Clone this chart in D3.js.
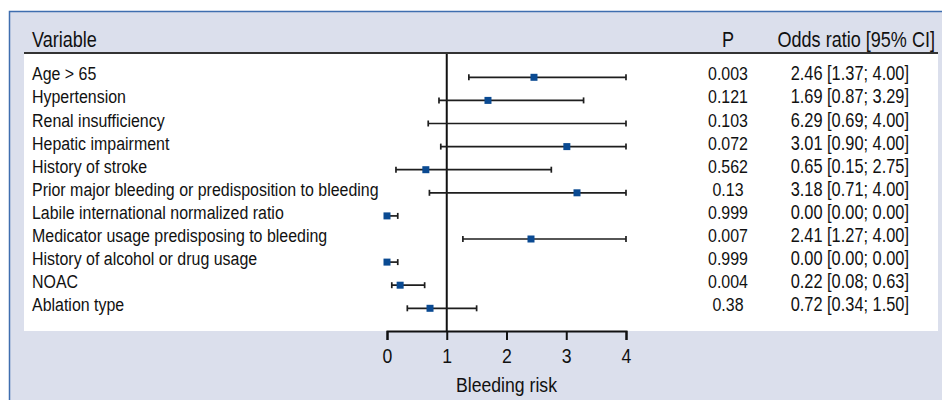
<!DOCTYPE html>
<html>
<head>
<meta charset="utf-8">
<script src="https://cdn.jsdelivr.net/npm/d3@7"></script>
<style>
  html, body { margin: 0; padding: 0; background: #fff; }
  svg text { font-family: "Liberation Sans", Arial, sans-serif; fill: #111; }
</style>
</head>
<body>
<div id="chart"></div>
<script>
const variables = [
  'Age > 65', 'Hypertension', 'Renal insufficiency', 'Hepatic impairment',
  'History of stroke', 'Prior major bleeding or predisposition to bleeding',
  'Labile international normalized ratio', 'Medicator usage predisposing to bleeding',
  'History of alcohol or drug usage', 'NOAC', 'Ablation type'
];
// values as drawn on the plot (clipped at 4)
const oddsRatio = [2.46, 1.69, 6.29, 3.01, 0.65, 3.18, 0.00, 2.41, 0.00, 0.22, 0.72];
const ciLow = [1.37, 0.87, 0.69, 0.90, 0.15, 0.71, 0.00, 1.27, 0.00, 0.08, 0.34];
const ciHigh = [4.00, 3.29, 4.00, 4.00, 2.75, 4.00, 0.18, 4.00, 0.18, 0.63, 1.50];
const pValues = ['0.003', '0.121', '0.103', '0.072', '0.562', '0.13', '0.999', '0.007', '0.999', '0.004', '0.38'];
const orLabels = [
  '2.46 [1.37; 4.00]', '1.69 [0.87; 3.29]', '6.29 [0.69; 4.00]', '3.01 [0.90; 4.00]',
  '0.65 [0.15; 2.75]', '3.18 [0.71; 4.00]', '0.00 [0.00; 0.00]', '2.41 [1.27; 4.00]',
  '0.00 [0.00; 0.00]', '0.22 [0.08; 0.63]', '0.72 [0.34; 1.50]'
];
const xTicks = [0, 1, 2, 3, 4];

const width = 942, height = 400;
const narrow = 0.84; // squeeze Liberation Sans to look like a condensed face
const rows = variables.map((v, i) => ({
  name: v, or: oddsRatio[i], lo: ciLow[i], hi: ciHigh[i], p: pValues[i], label: orLabels[i]
}));

const svg = d3.select('#chart').append('svg')
  .attr('width', width)
  .attr('height', height);

// place a text node at (tx, ty), squeezed horizontally
const at = (tx, ty) => `translate(${tx},${ty}) scale(${narrow},1)`;

// frame
svg.append('rect')
  .attr('x', 9).attr('y', 11)
  .attr('width', width - 9).attr('height', height - 11)
  .attr('fill', '#dbdfec');
svg.append('path')
  .attr('d', `M9.5,${height} V11.5 H${width}`)
  .attr('fill', 'none')
  .attr('stroke', '#3f6eaf')
  .attr('stroke-width', 1.5);

// white panel
const panelTop = 54, panelBottom = 331;
svg.append('rect')
  .attr('x', 24).attr('y', panelTop)
  .attr('width', 938 - 24).attr('height', panelBottom - panelTop)
  .attr('fill', '#fff');
svg.append('line')
  .attr('x1', 24).attr('x2', 938)
  .attr('y1', 53).attr('y2', 53)
  .attr('stroke', '#333')
  .attr('stroke-width', 2);

const x = d3.scaleLinear().domain([0, 4]).range([387, 626]);
const y = d3.scalePoint().domain(variables).range([77.3, 308.3]);

// header
const header = svg.append('g').style('font-size', '21.5px');
header.append('text').attr('transform', at(32, 46.5)).text('Variable');
header.append('text').attr('transform', at(728, 46.5)).attr('text-anchor', 'middle').text('P');
header.append('text').attr('transform', at(935, 46.5)).attr('text-anchor', 'end').text('Odds ratio [95% CI]');

// reference line at 1
svg.append('line')
  .attr('x1', x(1)).attr('x2', x(1))
  .attr('y1', panelTop).attr('y2', panelBottom)
  .attr('stroke', '#111')
  .attr('stroke-width', 2);

// whiskers
const ci = svg.append('g').selectAll('g')
  .data(rows)
  .enter().append('g')
  .attr('transform', d => `translate(0,${y(d.name)})`);

ci.append('line')
  .attr('x1', d => x(d.lo))
  .attr('x2', d => x(Math.min(d.hi, 4)))
  .attr('stroke', '#1e1e1e')
  .attr('stroke-width', 1.7);
ci.selectAll('.cap')
  .data(d => [d.lo, Math.min(d.hi, 4)])
  .enter().append('line')
  .attr('class', 'cap')
  .attr('x1', v => x(v)).attr('x2', v => x(v))
  .attr('y1', -3).attr('y2', 3)
  .attr('stroke', '#1e1e1e')
  .attr('stroke-width', 1.7);
ci.filter(d => d.or <= 4).append('rect')
  .attr('x', d => x(d.or) - 3.5)
  .attr('y', -3.5)
  .attr('width', 7).attr('height', 7)
  .attr('fill', '#0a4a92');

// table text
const table = svg.append('g').style('font-size', '19px');
table.selectAll('.var')
  .data(rows).enter().append('text')
  .attr('transform', d => at(32, y(d.name) + 3))
  .text(d => d.name);
table.selectAll('.p')
  .data(rows).enter().append('text')
  .attr('transform', d => at(728, y(d.name) + 3))
  .attr('text-anchor', 'middle')
  .text(d => d.p);
table.selectAll('.or')
  .data(rows).enter().append('text')
  .attr('transform', d => at(909, y(d.name) + 3))
  .attr('text-anchor', 'end')
  .style('font-size', '19.5px')
  .text(d => d.label);

// axis
const xAxis = d3.axisBottom(x).tickValues(xTicks).tickSize(9).tickPadding(8).tickFormat(d3.format('d'));
const axisG = svg.append('g')
  .attr('transform', `translate(0,${panelBottom})`)
  .call(xAxis);
axisG.select('.domain').attr('stroke', '#111').attr('stroke-width', 2);
axisG.selectAll('.tick line').attr('stroke', '#111').attr('stroke-width', 2);
axisG.selectAll('.tick text')
  .attr('transform', `scale(${narrow},1)`)
  .attr('x', 0)
  .style('font-family', '"Liberation Sans", Arial, sans-serif')
  .style('font-size', '21px')
  .attr('fill', '#111');

svg.append('text')
  .attr('transform', at(x(2), 392))
  .attr('text-anchor', 'middle')
  .style('font-size', '21px')
  .text('Bleeding risk');
</script>
</body>
</html>
